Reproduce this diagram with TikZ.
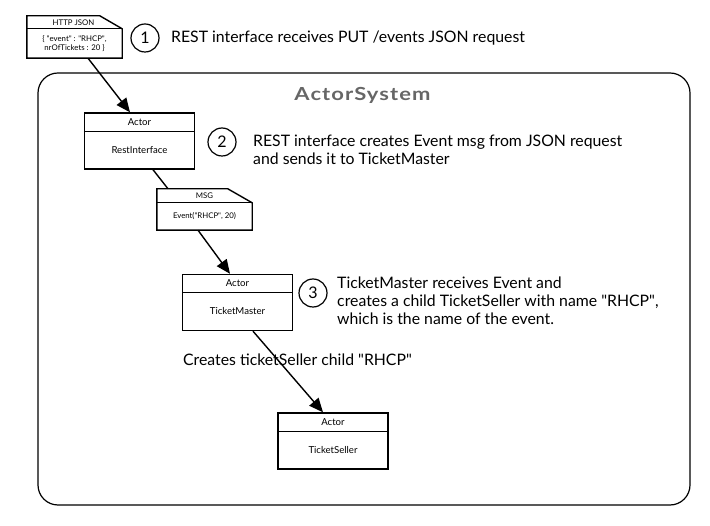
\documentclass[tikz,border=0pt]{standalone}
\usepackage{fontspec}
\setmainfont{Lato}
\usetikzlibrary{arrows.meta}
\begin{document}
\begin{tikzpicture}[x=1pt,y=-1pt,
    every node/.style={inner sep=0pt},
    outline/.style={draw,line width=1.4pt},
    actor/.style={outline,minimum width=110pt,minimum height=56pt},
    msgbox/.style={minimum width=95pt,minimum height=#1},
    stepnum/.style={draw,circle,line width=1.2pt,minimum size=28pt,font=\fontsize{16}{16}\selectfont},
    steptext/.style={anchor=west,align=left,font=\fontsize{15.8}{18}\selectfont},
    small/.style={font=\fontsize{9.6}{10}\selectfont},
    tiny/.style={font=\fontsize{7.8}{9.5}\selectfont,align=center},
    conn/.style={line width=1.4pt},
    arr/.style={conn,-{Triangle[length=14pt,width=12pt]}}]
\useasboundingbox (0,0) rectangle (710,526);
\draw[line width=1.2pt,rounded corners=20pt] (38,73) rectangle (690,505);
\node[font=\fontsize{18}{18}\selectfont\bfseries\addfontfeatures{LetterSpace=5},text=black!60] (system) at (362.5,95) {\scalebox{1.22}[1]{ActorSystem}};

\node[msgbox=42pt] (json) at (74.5,37) {};
\draw[outline] (json.north west) -- ++(73,0) -- ([yshift=-13pt]json.north east) -- (json.south east) -- (json.south west) -- cycle;
\draw[outline] ([yshift=-13pt]json.north west) -- ([yshift=-13pt]json.north east);
\node[tiny] at (73.5,22.5) {HTTP JSON};
\node[tiny] at (74.5,43.5) {\{ \textquotedbl event\textquotedbl\ : \textquotedbl RHCP\textquotedbl,\\nrOfTickets : 20 \}};

\node[msgbox=41pt] (msg) at (204.5,209.5) {};
\draw[outline] (msg.north west) -- ++(71,0) -- ([yshift=-14pt]msg.north east) -- (msg.south east) -- (msg.south west) -- cycle;
\draw[outline] ([yshift=-14pt]msg.north west) -- ([yshift=-14pt]msg.north east);
\node[tiny] at (204.5,196) {MSG};
\node[tiny] at (204.5,216.5) {Event(\textquotedbl RHCP\textquotedbl, 20)};

\node[actor] (rest) at (139.5,141) {};
\draw[outline] ([yshift=-19pt]rest.north west) -- ([yshift=-19pt]rest.north east);
\node[small] at ([yshift=-9.5pt]rest.north) {Actor};
\node[small] at ([yshift=-37.5pt]rest.north) {RestInterface};

\node[actor] (master) at (237.5,302.5) {};
\draw[outline] ([yshift=-19pt]master.north west) -- ([yshift=-19pt]master.north east);
\node[small] at ([yshift=-9.5pt]master.north) {Actor};
\node[small] at ([yshift=-37.5pt]master.north) {TicketMaster};

\node[actor] (seller) at (333,441) {};
\draw[outline] ([yshift=-19pt]seller.north west) -- ([yshift=-19pt]seller.north east);
\node[small] at ([yshift=-9.5pt]seller.north) {Actor};
\node[small] at ([yshift=-37.5pt]seller.north) {TicketSeller};

\node[stepnum] (one) at (145,38) {1};
\node[steptext] (onetext) at (171,38) {REST interface receives PUT /events JSON request};
\node[stepnum] (two) at (222,142) {2};
\node[steptext] (twotext) at (253,150) {REST interface creates Event msg from JSON request\\and sends it to TicketMaster};
\node[stepnum] (three) at (313,293) {3};
\node[steptext] (threetext) at (337,301) {TicketMaster receives Event and\\creates a child TicketSeller with name \textquotedbl RHCP\textquotedbl,\\which is the name of the event.};

\draw[arr] ([xshift=13.5pt]json.south) -- ([xshift=-9.5pt]rest.north);
\draw[conn] ([xshift=13.5pt]rest.south) -- ([xshift=-36.5pt]msg.north);
\draw[arr] ([xshift=-6.5pt]msg.south) -- ([xshift=-7.5pt]master.north);
\draw[arr] ([xshift=15.5pt]master.south) -- ([xshift=-10pt]seller.north);
\node[steptext] (creates) at (183,360) {Creates ticketSeller child \textquotedbl RHCP\textquotedbl};
\end{tikzpicture}
\end{document}
